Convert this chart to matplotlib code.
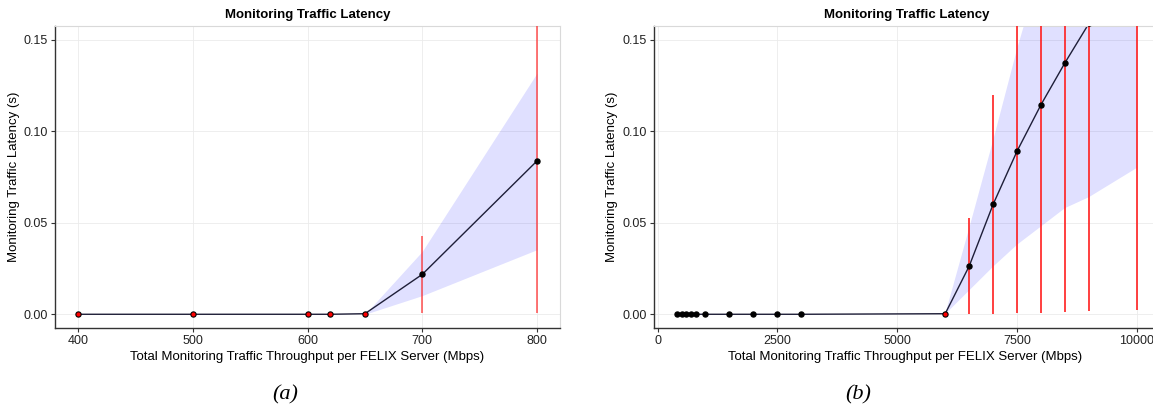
import numpy as np
import matplotlib
matplotlib.use("Agg")
import matplotlib.pyplot as plt

plt.rcParams['font.family'] = ['Liberation Sans', 'DejaVu Sans']

#%%
# panel (a): 400-800 Mbps
xa = [400, 500, 600, 620, 650, 700, 800]
ya = [0.0, 0.0, 0.0, 0.0, 0.0003, 0.0218, 0.0838]
ya_lo = [0.0, 0.0, 0.0, 0.0, 0.0003, 0.0008, 0.0005]
ya_hi = [0.0, 0.0, 0.0, 0.0, 0.0003, 0.0430, 0.2200]
ya_band_lo = [0.0, 0.0, 0.0, 0.0, 0.0, 0.0102, 0.0353]
ya_band_hi = [0.0, 0.0, 0.0, 0.0, 0.0, 0.0344, 0.1318]

# panel (b): 400-10000 Mbps
xb = [400, 500, 600, 700, 800, 1000, 1500, 2000, 2500, 3000,
      6000, 6500, 7000, 7500, 8000, 8500, 9000, 10000]
yb = [0, 0, 0, 0, 0, 0, 0, 0, 0, 0,
      0.0003, 0.0263, 0.0601, 0.0892, 0.1146, 0.1375, 0.1590, 0.2000]
yb_lo = [np.nan]*10 + [0.0003, 0.0, 0.0, 0.0008, 0.0008, 0.0013, 0.0016, 0.0026]
yb_hi = [np.nan]*10 + [0.0003, 0.0527, 0.1200, 0.2200, 0.2500, 0.2800, 0.3000, 0.3300]
yb_band_lo = [0]*10 + [0.0, 0.013, 0.026, 0.038, 0.048, 0.058, 0.064, 0.080]
yb_band_hi = [0]*10 + [0.0, 0.047, 0.095, 0.145, 0.190, 0.230, 0.270, 0.350]

title = 'Monitoring Traffic Latency'
xlabel = 'Total Monitoring Traffic Throughput per FELIX Server (Mbps)'
ylabel = 'Monitoring Traffic Latency (s)'

#%%
W, H = 1153, 412
fig = plt.figure(figsize=(W/100, H/100), dpi=100)
ax1 = fig.add_axes([55/W, (H-328)/H, (560-55)/W, (328-26)/H])
ax2 = fig.add_axes([653.7/W, (H-328)/H, (1160-653.7)/W, (328-26)/H])


def draw(ax, x, y, lo, hi, blo, bhi, ecol, ealpha):
    x = np.array(x, float)
    y = np.array(y, float)
    lo = np.array(lo, float)
    hi = np.array(hi, float)
    ax.fill_between(x, blo, bhi, color='#0000ff', alpha=0.12, lw=0, zorder=1)
    ax.plot(x, y, color='#1e1e38', lw=1.0, zorder=2)
    ok = ~np.isnan(lo)
    ax.vlines(x[ok], lo[ok], hi[ok], color=ecol, alpha=ealpha, lw=1.3, zorder=3)
    ax.plot(x, y, 'o', color='black', ms=3.6, zorder=4)
    zero = ok & (hi - lo < 1e-9)
    ax.plot(x[zero], y[zero], 'o', color='red', ms=2.0, zorder=5)

    ax.set_ylim(-0.0075, 0.1575)
    ax.set_yticks([0, 0.05, 0.10, 0.15])
    ax.set_yticklabels(['0.00', '0.05', '0.10', '0.15'])
    ax.grid(True, color='#ebebeb', lw=0.6, zorder=0)
    ax.set_axisbelow(True)
    for s in ['top', 'right']:
        ax.spines[s].set_color('#d9d9d9')
        ax.spines[s].set_linewidth(0.8)
    for s in ['left', 'bottom']:
        ax.spines[s].set_color('#333333')
        ax.spines[s].set_linewidth(1.0)
    ax.tick_params(direction='out', length=3, width=0.8, color='#333333',
                   labelsize=9, labelcolor='#222222', pad=2)
    ax.set_title(title, fontsize=9.5, fontweight='bold', pad=6)
    ax.set_xlabel(xlabel, fontsize=9.5)
    ax.set_ylabel(ylabel, fontsize=9.5, labelpad=3)


draw(ax1, xa, ya, ya_lo, ya_hi, ya_band_lo, ya_band_hi, '#ff2a2a', 0.7)
ax1.set_xlim(380, 820)
ax1.set_xticks([400, 500, 600, 700, 800])

draw(ax2, xb, yb, yb_lo, yb_hi, yb_band_lo, yb_band_hi, '#ff1a1a', 0.9)
ax2.set_xlim(-80, 10480)
ax2.set_xticks([0, 2500, 5000, 7500, 10000])
# x label centred under the visible part of the panel
ax2.xaxis.set_label_coords((905 - 653.7) / (1160 - 653.7), -0.075)
ax1.xaxis.set_label_coords(0.5, -0.075)

fig.text(285/W, 1 - 395/H, '(a)', family='Liberation Serif', style='italic',
         fontsize=16, ha='center', va='center')
fig.text(858/W, 1 - 395/H, '(b)', family='Liberation Serif', style='italic',
         fontsize=16, ha='center', va='center')

fig.savefig('out.png', dpi=100)
